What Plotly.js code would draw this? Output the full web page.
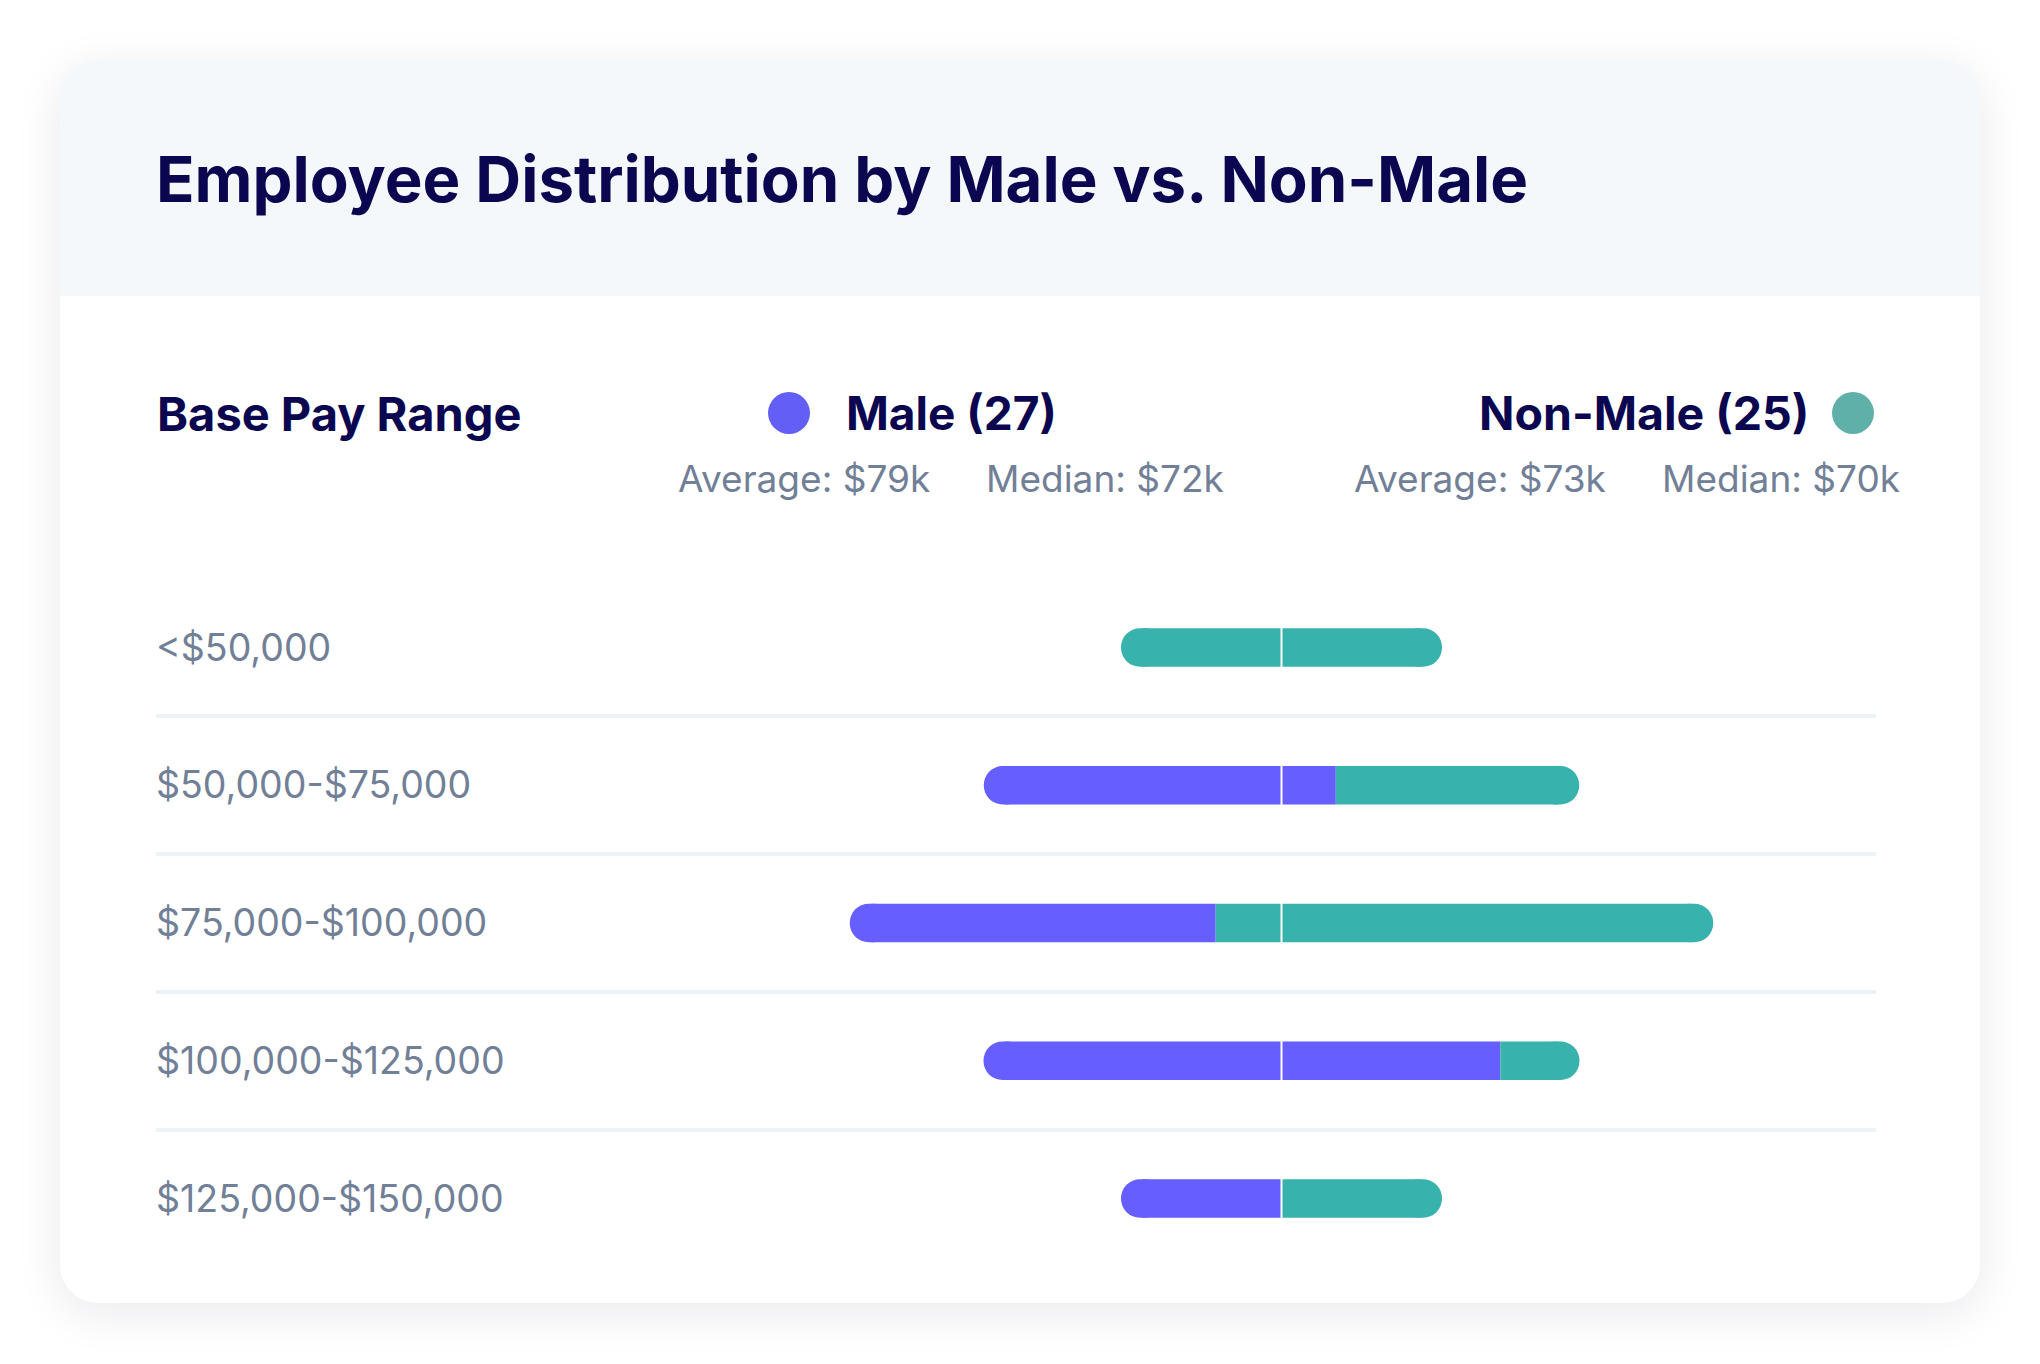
<!DOCTYPE html>
<html><head><meta charset="utf-8">
<script src="https://cdn.plot.ly/plotly-3.0.1.min.js"></script>
<style>
html,body{margin:0;padding:0;background:#fff;width:2040px;height:1364px;overflow:hidden}
#card{position:absolute;left:60px;top:60px;width:1920px;height:1243px;border-radius:38px;background:#fff;box-shadow:0 10px 48px rgba(20,20,50,0.09);overflow:hidden}
#head{position:absolute;left:0;top:0;width:100%;height:236px;background:#F4F8FB}
#chart{position:absolute;left:0;top:0;width:2040px;height:1364px}
</style></head><body>
<div id="card"><div id="head"></div></div>
<div id="chart"></div>
<script>
// ---- data ----
const categories = ['<$50,000', '$50,000-$75,000', '$75,000-$100,000', '$100,000-$125,000', '$125,000-$150,000'];
const male = [0, 6.58, 6.84, 9.66, 3.0];
const nonMale = [6.0, 4.55, 9.30, 1.48, 3.0];
const titleText = 'Employee Distribution by Male vs. Non-Male';
const axisHeading = 'Base Pay Range';
const maleLegend = 'Male (27)';
const nonMaleLegend = 'Non-Male (25)';
const maleStats = ['Average: $79k', 'Median: $72k'];
const nonMaleStats = ['Average: $73k', 'Median: $70k'];

// ---- style ----
const PURPLE = '#665EFF', TEAL = '#38B2AC';
const PURPLE_DOT = '#635FF6', TEAL_DOT = '#5FB0A8';
const NAVY = '#0A0750', SLATE = '#718096', GRID = '#EDF2F7';
const FONT = 'Inter, "Noto Sans", sans-serif';

const W = 2040, H = 1364;
const M = {l: 156, r: 164, t: 580, b: 98};
const pw = W - M.l - M.r, ph = H - M.t - M.b;
const px = x => (x - M.l) / pw;
const py = y => 1 - (y - M.t) / ph;

// derived geometry from the data (bars centred on zero)
const total = male.map((m, i) => m + nonMale[i]);
const leftEnd = total.map(t => -t / 2);
const rightEnd = total.map(t => t / 2);
const split = leftEnd.map((l, i) => l + male[i]);

const unitPx = 53.5;             // pixels per employee
const centerPx = 1281.5;         // where zero sits
const xr = [-(centerPx - M.l) / unitPx, (M.l + pw - centerPx) / unitPx];

const BW = 0.28, CR = 19;
const C = 0.4;                   // cap inset (data units)

// square inner segments, clipped so the rounded caps remain visible
const maleSqBase = leftEnd.map(l => l + C);
const maleSqLen = split.map((b, i) => Math.max(0, b - (leftEnd[i] + C)));
const nmSqBase = split.map((b, i) => Math.max(b, leftEnd[i] + C));
const nmSqLen = nmSqBase.map((b, i) => Math.max(0, rightEnd[i] - C - b));

const traces = [
  // rounded caps
  { type: 'bar', orientation: 'h', y: categories, x: leftEnd.map(() => 2 * C), base: leftEnd,
    width: BW, marker: { color: male.map(m => m > 0 ? PURPLE : TEAL), cornerradius: CR, line: {width: 0} },
    hoverinfo: 'skip', showlegend: false },
  { type: 'bar', orientation: 'h', y: categories, x: rightEnd.map(() => 2 * C), base: rightEnd.map(r => r - 2 * C),
    width: BW, marker: { color: nonMale.map(n => n > 0 ? TEAL : PURPLE), cornerradius: CR, line: {width: 0} },
    hoverinfo: 'skip', showlegend: false },
  // inner segments
  { type: 'bar', orientation: 'h', name: 'Male', y: categories, x: maleSqLen, base: maleSqBase,
    width: BW, marker: { color: PURPLE, line: {width: 0} }, showlegend: false },
  { type: 'bar', orientation: 'h', name: 'Non-Male', y: categories, x: nmSqLen, base: nmSqBase,
    width: BW, marker: { color: TEAL, line: {width: 0} }, showlegend: false },
  // white centre divider
  { type: 'scatter', mode: 'markers', y: categories, x: categories.map(() => 0),
    marker: { symbol: 'line-ns', size: 39, color: '#fff', line: { color: '#fff', width: 2 } },
    hoverinfo: 'skip', showlegend: false }
];

const ann = (text, x, y, xanchor, size, weight, color) => ({
  text, x: px(x), y: py(y), xref: 'paper', yref: 'paper', xanchor, yanchor: 'middle',
  showarrow: false, borderpad: 0, font: { family: FONT, size, weight, color }
});

const layout = {
  width: W, height: H, margin: M,
  paper_bgcolor: 'rgba(0,0,0,0)', plot_bgcolor: 'rgba(0,0,0,0)',
  barmode: 'overlay', showlegend: false,
  title: { text: titleText, xref: 'container', yref: 'container', x: 156 / W, y: 1 - 180 / H,
           xanchor: 'left', yanchor: 'middle', font: { family: FONT, size: 63.5, weight: 700, color: NAVY } },
  xaxis: { range: xr, visible: false, fixedrange: true },
  yaxis: { type: 'category', range: [categories.length - 1 + 0.49, -0.49], tickson: 'boundaries',
           showgrid: true, gridcolor: GRID, gridwidth: 4, zeroline: false, showline: false, ticks: '',
           ticklabelposition: 'inside', ticklabelstandoff: -3,
           tickfont: { family: FONT, size: 37.5, color: SLATE }, fixedrange: true },
  annotations: [
    ann(axisHeading, 156, 413, 'left', 47, 700, NAVY),
    ann(maleLegend, 845, 413, 'left', 46, 700, NAVY),
    ann(nonMaleLegend, 1810, 413, 'right', 46.5, 700, NAVY),
    ann(maleStats[0], 677, 478, 'left', 37, 400, SLATE),
    ann(maleStats[1], 985, 478, 'left', 37, 400, SLATE),
    ann(nonMaleStats[0], 1353, 478, 'left', 37, 400, SLATE),
    ann(nonMaleStats[1], 1661, 478, 'left', 37, 400, SLATE)
  ],
  shapes: [
    { type: 'circle', xref: 'paper', yref: 'paper', x0: px(768), x1: px(810), y0: py(434), y1: py(392),
      fillcolor: PURPLE_DOT, line: { width: 0 } },
    { type: 'circle', xref: 'paper', yref: 'paper', x0: px(1832), x1: px(1874), y0: py(434), y1: py(392),
      fillcolor: TEAL_DOT, line: { width: 0 } }
  ]
};

Plotly.newPlot('chart', traces, layout, { displayModeBar: false, staticPlot: true });
</script>
</body></html>
